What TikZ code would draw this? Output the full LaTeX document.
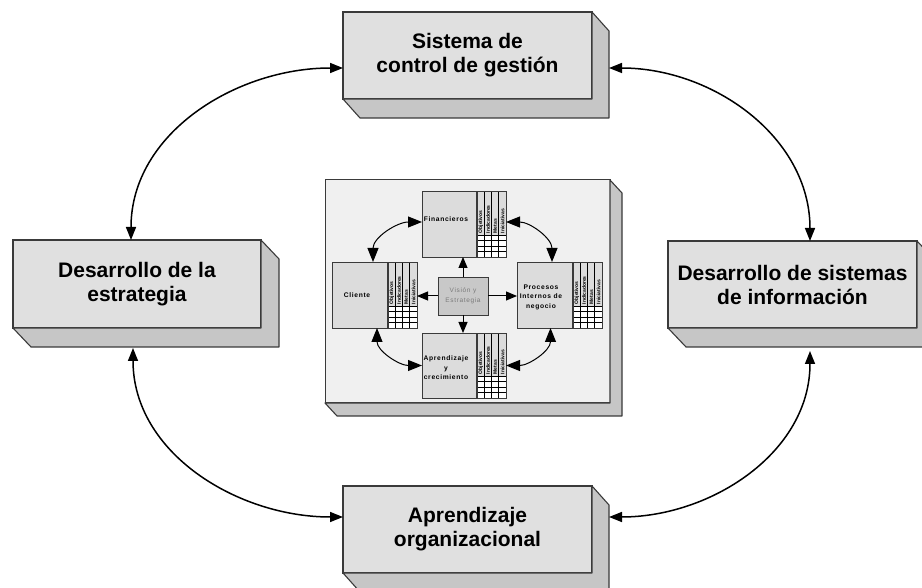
\documentclass[tikz,border=0pt]{standalone}
\usepackage{fontspec}
\setmainfont{Liberation Sans}
\newfontfamily\smallf[LetterSpace=10.0]{Liberation Sans}
\usetikzlibrary{arrows.meta,calc}

\definecolor{frontgray}{HTML}{E0E0E0}
\definecolor{sidegray}{HTML}{C6C6C6}
\definecolor{edgegray}{HTML}{3A3A3A}
\definecolor{panelgray}{HTML}{F0F0F0}
\definecolor{innergray}{HTML}{DCDCDC}
\definecolor{visgray}{HTML}{C8C8C8}
\definecolor{vistext}{HTML}{7A7A7A}

\tikzset{
  outerbox/.style={draw=edgegray, line width=1.1pt, fill=frontgray, minimum width=249pt, minimum height=87pt,
    inner sep=0pt, outer sep=0pt, align=center, font=\fontsize{21}{24}\selectfont\bfseries},
  sideface/.style={draw=edgegray, line width=1.1pt, fill=sidegray, line join=round},
  bigarrow/.style={line width=1.5pt, {Triangle[length=13pt,width=10pt]}-{Triangle[length=13pt,width=10pt]}},
  panel/.style={draw=edgegray, line width=1pt, fill=panelgray, minimum width=285pt, minimum height=223pt, outer sep=0pt, inner sep=0pt},
  bscbox/.style={draw=edgegray, line width=0.9pt, fill=innergray, minimum width=84pt, minimum height=66pt, outer sep=0pt, inner sep=0pt},
  visbox/.style={draw=edgegray, line width=0.9pt, fill=visgray, minimum width=50pt, minimum height=38pt, outer sep=0pt, inner sep=0pt,
    align=center, text=vistext, font=\fontsize{6.5}{10}\smallf},
  bsclabel/.style={align=center, font=\fontsize{6.7}{9.5}\smallf\bfseries, inner sep=0pt},
  inarrow/.style={line width=1pt, -{Triangle[length=11pt,width=9pt]}},
  incurve/.style={line width=1pt, {Triangle[length=14pt,width=11pt]}-{Triangle[length=14pt,width=11pt]}},
  colhead/.style={rotate=90, anchor=west, font=\fontsize{5}{5}\selectfont\bfseries, inner sep=0pt},
  tabline/.style={draw=black, line width=0.7pt}
}

\newcommand\depthface[3]{%
  \filldraw[sideface] (#1.north east) -- ++(#2,#3) -- ($(#1.south east)+(#2,#3)$) -- ($(#1.south west)+(#2,#3)$) -- (#1.south west) -- (#1.south east) -- cycle;
}

\newcommand\bsctable[1]{%
  \fill[white] ($(#1.south east)+(-29,0)$) rectangle ($(#1.south east)+(0,22)$);
  \foreach \k in {0,1,2,3,4} {\draw[tabline] ($(#1.south east)+(-29+7.25*\k,0)$) -- ($(#1.north east)+(-29+7.25*\k,0)$);}
  \foreach \k in {1,2,3,4} {\draw[tabline] ($(#1.south east)+(-29,5.5*\k)$) -- ($(#1.south east)+(0,5.5*\k)$);}
  \foreach \k/\t in {0/Objetivos,1/Indicadores,2/Metas,3/Iniciativas} {\node[colhead] (#1h\k) at ($(#1.south east)+(-29+7.25*\k+3.8,23.5)$) {\t};}
  \draw[line width=1.3pt, edgegray] ($(#1.south east)+(-29,0)$) -- ($(#1.north east)+(-29,0)$);
  \draw[line width=0.9pt, edgegray] (#1.south west) rectangle (#1.north east);
}

\begin{document}
\begin{tikzpicture}[x=1pt,y=1pt]
\useasboundingbox (0,0) rectangle (922,587);
\fill[white] (0,0) rectangle (922,587);

% outer boxes
\node[outerbox] (tb) at (467.5,531.5) {Sistema de\\control de gestión};
\depthface{tb}{17}{-19}
\node[outerbox, minimum width=248pt, minimum height=88pt] (lb) at (137,303) {Desarrollo de la\\estrategia};
\depthface{lb}{18}{-19}
\node[outerbox] (rb) at (792.5,302.5) {Desarrollo de sistemas\\de información};
\depthface{rb}{18}{-19}
\node[outerbox] (bb) at (467.5,57.5) {Aprendizaje\\organizacional};
\depthface{bb}{17}{-19}

% outer arrows
\draw[bigarrow] ([xshift=-6pt]lb.north) to[out=90,in=180] ([yshift=-12.5pt]tb.west);
\draw[bigarrow] ([xshift=17pt,yshift=-12.5pt]tb.east) to[out=0,in=90] ([xshift=17.5pt]rb.north);
\draw[bigarrow] ([xshift=-4pt,yshift=-20pt]lb.south) to[out=-90,in=180] ([yshift=12.5pt]bb.west);
\draw[bigarrow] ([xshift=17pt,yshift=12.5pt]bb.east) to[out=0,in=-90] ([xshift=17.5pt,yshift=-23pt]rb.south);

% central panel
\node[panel] (pn) at (467.5,295.5) {};
\depthface{pn}{12}{-13}

% inner perspective boxes
\node[bscbox] (fin) at (464,363) {};
\bsctable{fin}
\node[bsclabel] (finl) at (446,368) {Financieros};

\node[bscbox, minimum width=85pt] (cli) at (374.5,292) {};
\bsctable{cli}
\node[bsclabel] (clil) at (357,292) {Cliente};

\node[bscbox, minimum width=85pt] (pro) at (559.5,292) {};
\bsctable{pro}
\node[bsclabel] (prol) at (541,290) {Procesos\\Internos de\\negocio};

\node[bscbox, minimum height=65pt] (apr) at (464,221.5) {};
\bsctable{apr}
\node[bsclabel] (aprl) at (446,219) {Aprendizaje\\y\\crecimiento};

\node[visbox] (vis) at (463,291) {Visión y\\Estrategia};

% inner arrows
\draw[inarrow] (vis.north) -- (vis.north |- fin.south);
\draw[inarrow] (vis.south) -- (vis.south |- apr.north);
\draw[inarrow] (vis.west) -- (cli.east |- vis.west);
\draw[inarrow] (vis.east) -- (pro.west |- vis.east);

\draw[incurve] ([xshift=-1.5pt]cli.north) to[out=90,in=180] ([yshift=2pt]fin.west);
\draw[incurve] ([yshift=2pt]fin.east) to[out=0,in=90] ([xshift=-7.5pt]pro.north);
\draw[incurve] ([xshift=2.5pt]cli.south) to[out=-90,in=180] (apr.west);
\draw[incurve] (apr.east) to[out=0,in=-90] ([xshift=-9pt]pro.south);
\end{tikzpicture}
\end{document}
